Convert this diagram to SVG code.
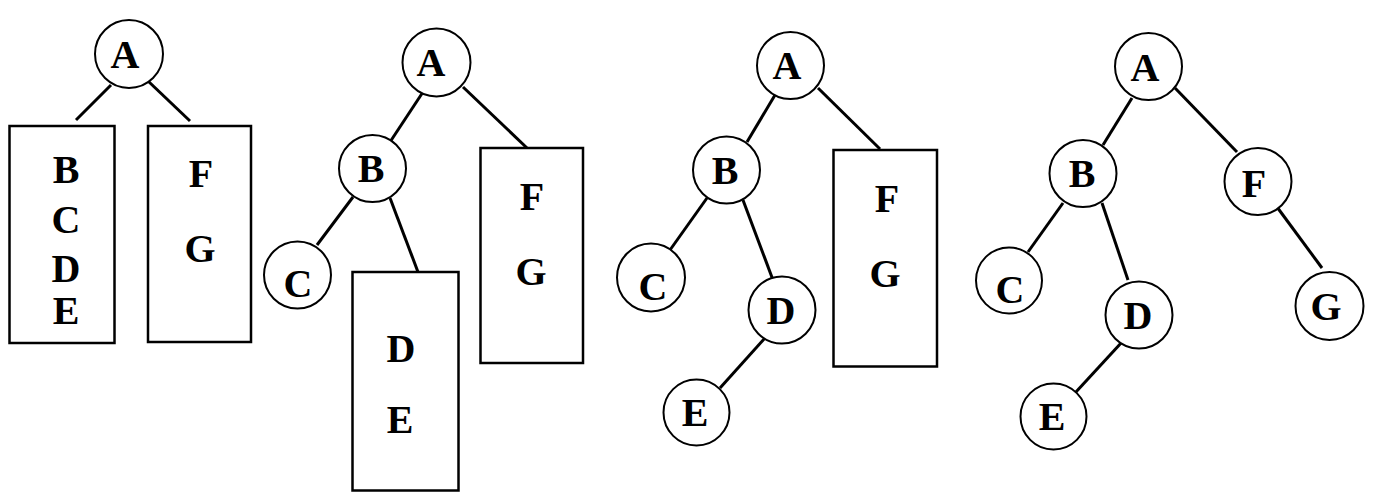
<svg xmlns="http://www.w3.org/2000/svg" width="1373" height="499" viewBox="0 0 1373 499">
  <style>
    .node circle { fill: #fff; stroke: #000; stroke-width: 2; }
    .node rect { fill: #fff; stroke: #000; stroke-width: 2.5; }
    .node text { font-family: "Liberation Serif", "Times New Roman", serif; font-weight: bold; font-size: 40px; text-anchor: middle; fill: #000; }
    .edges line { stroke: #000; stroke-width: 3; stroke-linecap: butt; }
  </style>
  <rect width="1373" height="499" fill="#fff"/>

  <!-- connectors -->
  <g class="edges">
    <!-- tree 1 -->
    <line x1="111" y1="85" x2="76" y2="120" stroke-width="2.5"/>
    <line x1="148" y1="81" x2="190" y2="121" stroke-width="2.5"/>
    <!-- tree 2 -->
    <line x1="423" y1="92" x2="390" y2="142"/>
    <line x1="463" y1="87" x2="527" y2="148" stroke-width="3.5"/>
    <line x1="353" y1="197" x2="317" y2="245" stroke-width="3.5"/>
    <line x1="390" y1="198" x2="418" y2="272" stroke-width="3.5"/>
    <!-- tree 3 -->
    <line x1="775" y1="95" x2="747" y2="142" stroke-width="3.5"/>
    <line x1="818" y1="88" x2="880" y2="149" stroke-width="3.5"/>
    <line x1="707" y1="198" x2="670" y2="250" stroke-width="3.5"/>
    <line x1="743" y1="200" x2="773" y2="280" stroke-width="3.5"/>
    <line x1="765" y1="338" x2="720" y2="388"/>
    <!-- tree 4 -->
    <line x1="1132" y1="98" x2="1103" y2="145"/>
    <line x1="1175" y1="88" x2="1237" y2="152" stroke-width="3.5"/>
    <line x1="1063" y1="203" x2="1028" y2="252" stroke-width="3.5"/>
    <line x1="1102" y1="203" x2="1128" y2="280" stroke-width="4"/>
    <line x1="1122" y1="342" x2="1075" y2="393" stroke-width="3.5"/>
    <line x1="1277" y1="207" x2="1322" y2="268"/>
  </g>

  <!-- tree 1: root with two unsplit lists -->
  <g id="t1-A" class="node"><circle cx="129" cy="54" r="34"/><text x="125" y="68">A</text></g>
  <g id="t1-BCDE" class="node">
    <rect x="9.5" y="126" width="105" height="217"/>
    <text x="66" y="183">B</text>
    <text x="66" y="233">C</text>
    <text x="66" y="282">D</text>
    <text x="66" y="324">E</text>
  </g>
  <g id="t1-FG" class="node">
    <rect x="148" y="126" width="103" height="216"/>
    <text x="201" y="187">F</text>
    <text x="200" y="262">G</text>
  </g>

  <!-- tree 2 -->
  <g id="t2-A" class="node"><circle cx="436.5" cy="62.5" r="34"/><text x="431" y="76">A</text></g>
  <g id="t2-B" class="node"><circle cx="372.5" cy="168.5" r="33.5"/><text x="371" y="182">B</text></g>
  <g id="t2-C" class="node"><circle cx="297.5" cy="275" r="33.5"/><text x="298" y="297">C</text></g>
  <g id="t2-DE" class="node">
    <rect x="352.5" y="272" width="106" height="218.5"/>
    <text x="401" y="362">D</text>
    <text x="400" y="433">E</text>
  </g>
  <g id="t2-FG" class="node">
    <rect x="480.5" y="148" width="102.5" height="215"/>
    <text x="532" y="210">F</text>
    <text x="531" y="285">G</text>
  </g>

  <!-- tree 3 -->
  <g id="t3-A" class="node"><circle cx="790.5" cy="65.5" r="33.5"/><text x="787" y="79">A</text></g>
  <g id="t3-B" class="node"><circle cx="726.5" cy="170" r="33.5"/><text x="725" y="184">B</text></g>
  <g id="t3-C" class="node"><circle cx="651" cy="277.5" r="34"/><text x="653" y="300">C</text></g>
  <g id="t3-D" class="node"><circle cx="782" cy="310" r="33.5"/><text x="781" y="324">D</text></g>
  <g id="t3-E" class="node"><circle cx="696.5" cy="412.5" r="33"/><text x="695" y="426">E</text></g>
  <g id="t3-FG" class="node">
    <rect x="833.5" y="150" width="103.5" height="216.5"/>
    <text x="887" y="212">F</text>
    <text x="885" y="287">G</text>
  </g>

  <!-- tree 4: fully built binary tree -->
  <g id="t4-A" class="node"><circle cx="1148.5" cy="66.5" r="33.5"/><text x="1145" y="81">A</text></g>
  <g id="t4-B" class="node"><circle cx="1083" cy="173.5" r="33.5"/><text x="1082" y="187">B</text></g>
  <g id="t4-C" class="node"><circle cx="1009" cy="280.5" r="33"/><text x="1010" y="303">C</text></g>
  <g id="t4-D" class="node"><circle cx="1139" cy="315" r="33.5"/><text x="1138" y="329">D</text></g>
  <g id="t4-E" class="node"><circle cx="1053.5" cy="416.5" r="33"/><text x="1052" y="430">E</text></g>
  <g id="t4-F" class="node"><circle cx="1258" cy="181.5" r="33.5"/><text x="1254" y="197">F</text></g>
  <g id="t4-G" class="node"><circle cx="1329.5" cy="306" r="34"/><text x="1326" y="320">G</text></g>
</svg>
